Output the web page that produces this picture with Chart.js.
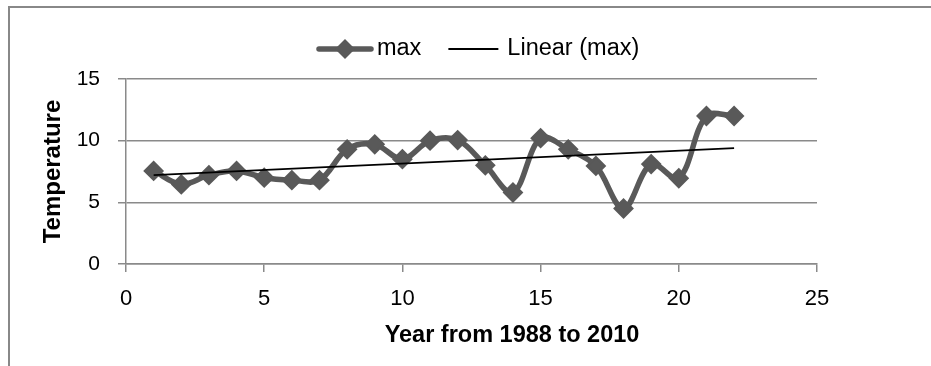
<!DOCTYPE html>
<html>
<head>
<meta charset="utf-8">
<script src="https://cdn.jsdelivr.net/npm/chart.js@4.4.1/dist/chart.umd.min.js"></script>
<style>
  html, body { margin: 0; padding: 0; background: #ffffff; }
  #wrap { position: relative; width: 931px; height: 366px; }
  canvas { display: block; }
</style>
</head>
<body>
<div id="wrap"><canvas id="c" width="931" height="366"></canvas></div>
<script>
// ---- data ----
const years = [1, 2, 3, 4, 5, 6, 7, 8, 9, 10, 11, 12, 13, 14, 15, 16, 17, 18, 19, 20, 21, 22];
const maxTemps = [7.55, 6.45, 7.2, 7.55, 7.0, 6.8, 6.8, 9.3, 9.7, 8.5, 10.0, 10.05, 8.0, 5.8, 10.2, 9.3, 7.95, 4.5, 8.1, 6.95, 12.0, 12.0];
const trendX = [1, 22];
const trendY = [7.2, 9.4];
const xTickValues = [0, 5, 10, 15, 20, 25];
const yTickValues = [0, 5, 10, 15];
const seriesNames = ['max', 'Linear (max)'];
const xAxisTitle = 'Year from 1988 to 2010';
const yAxisTitle = 'Temperature';

// ---- styles ----
const GRAY = '#595959';
const GRID = '#8a8a8a';
const FONT = "'Liberation Sans', Arial, sans-serif";

Chart.defaults.font.family = FONT;
Chart.defaults.color = '#000';

function makeLegendImg(kind) {
  const c = document.createElement('canvas');
  c.width = 58; c.height = 24;
  const g = c.getContext('2d');
  if (kind === 0) {
    g.strokeStyle = GRAY; g.lineWidth = 5.5; g.lineCap = 'round';
    g.beginPath(); g.moveTo(3, 12); g.lineTo(55, 12); g.stroke();
    g.fillStyle = GRAY;
    g.beginPath(); g.moveTo(19, 12); g.lineTo(29, 2); g.lineTo(39, 12); g.lineTo(29, 22); g.closePath(); g.fill();
  } else {
    g.strokeStyle = '#000'; g.lineWidth = 1.8;
    g.beginPath(); g.moveTo(2, 12); g.lineTo(52, 12); g.stroke();
  }
  return c;
}
const legendImgs = [makeLegendImg(0), makeLegendImg(1)];

const framePlugin = {
  id: 'frame',
  beforeDraw(chart) {
    const ctx = chart.ctx;
    ctx.save();
    ctx.fillStyle = '#ffffff';
    ctx.fillRect(0, 0, chart.width, chart.height);
    ctx.fillStyle = '#888888';
    ctx.fillRect(8, 6, chart.width - 8, 2);
    ctx.fillRect(8, 6, 2, chart.height - 6);
    ctx.restore();
  },
  afterDraw(chart) {
    const ctx = chart.ctx;
    ctx.save();
    ctx.font = 'bold 23.5px ' + FONT;
    ctx.fillStyle = '#000';
    ctx.textAlign = 'center';
    ctx.textBaseline = 'middle';
    ctx.fillText(xAxisTitle, 512, 336);
    ctx.restore();
  }
};

const legendTweak = {
  id: 'legendTweak',
  beforeLayout(chart) {
    const lg = chart.legend;
    if (lg && !lg.__tweaked) {
      const f = lg.fit;
      lg.fit = function () {
        f.apply(this, arguments);
        this.height += 8.25;
        if (this.lineWidths) this.lineWidths[0] -= 147;
      };
      lg.__tweaked = true;
    }
  }
};

new Chart(document.getElementById('c'), {
  type: 'line',
  data: {
    datasets: [
      {
        label: seriesNames[0],
        data: years.map((x, i) => ({ x: x, y: maxTemps[i] })),
        borderColor: GRAY,
        backgroundColor: GRAY,
        borderWidth: 5.5,
        tension: 0.35,
        fill: false,
        pointStyle: 'rectRot',
        pointRadius: 9,
        pointBorderWidth: 2,
        pointBackgroundColor: GRAY,
        pointBorderColor: GRAY,
        order: 1
      },
      {
        label: seriesNames[1],
        data: trendX.map((x, i) => ({ x: x, y: trendY[i] })),
        borderColor: '#000000',
        borderWidth: 1.8,
        pointRadius: 0,
        tension: 0,
        fill: false,
        order: 0
      }
    ]
  },
  options: {
    responsive: false,
    animation: false,
    devicePixelRatio: 1,
    layout: { padding: { left: 0, right: 114, top: 3.5, bottom: 0 } },
    plugins: {
      tooltip: { enabled: false },
      legend: {
        display: true,
        position: 'top',
        align: 'center',
        labels: {
          usePointStyle: true,
          pointStyleWidth: 40.5,
          padding: 33.75,
          font: { size: 23.5 },
          color: '#000',
          generateLabels(chart) {
            return chart.data.datasets.map((ds, i) => ({
              text: ds.label,
              pointStyle: legendImgs[i],
              fillStyle: 'rgba(0,0,0,0)',
              strokeStyle: 'rgba(0,0,0,0)',
              lineWidth: 0,
              hidden: false,
              datasetIndex: i,
              fontColor: '#000'
            }));
          }
        }
      }
    },
    scales: {
      x: {
        type: 'linear',
        position: 'bottom',
        min: 0,
        max: 25,
        afterBuildTicks(s) { s.ticks = xTickValues.map(v => ({ value: v })); },
        afterFit(s) { s.height = 102; },
        grid: { drawOnChartArea: false, drawTicks: true, tickLength: 8, color: GRID, lineWidth: 1.5 },
        border: { display: true, color: GRID, width: 1.5 },
        ticks: { font: { size: 22 }, color: '#000', padding: 13.3, maxRotation: 0, autoSkip: false },
        title: { display: false }
      },
      y: {
        type: 'linear',
        position: 'left',
        min: 0,
        max: 15,
        afterBuildTicks(s) { s.ticks = yTickValues.map(v => ({ value: v })); },
        afterFit(s) { s.width = 126; },
        grid: { color: GRID, lineWidth: 1.5, tickLength: 8, drawTicks: true },
        border: { display: true, color: GRID, width: 1.5 },
        ticks: { font: { size: 21 }, color: '#000', padding: 18 },
        title: {
          display: true,
          text: yAxisTitle,
          font: { size: 24, weight: 'bold' },
          color: '#000',
          padding: { top: 38.6, bottom: 0 }
        }
      }
    }
  },
  plugins: [framePlugin, legendTweak]
});
</script>
</body>
</html>
